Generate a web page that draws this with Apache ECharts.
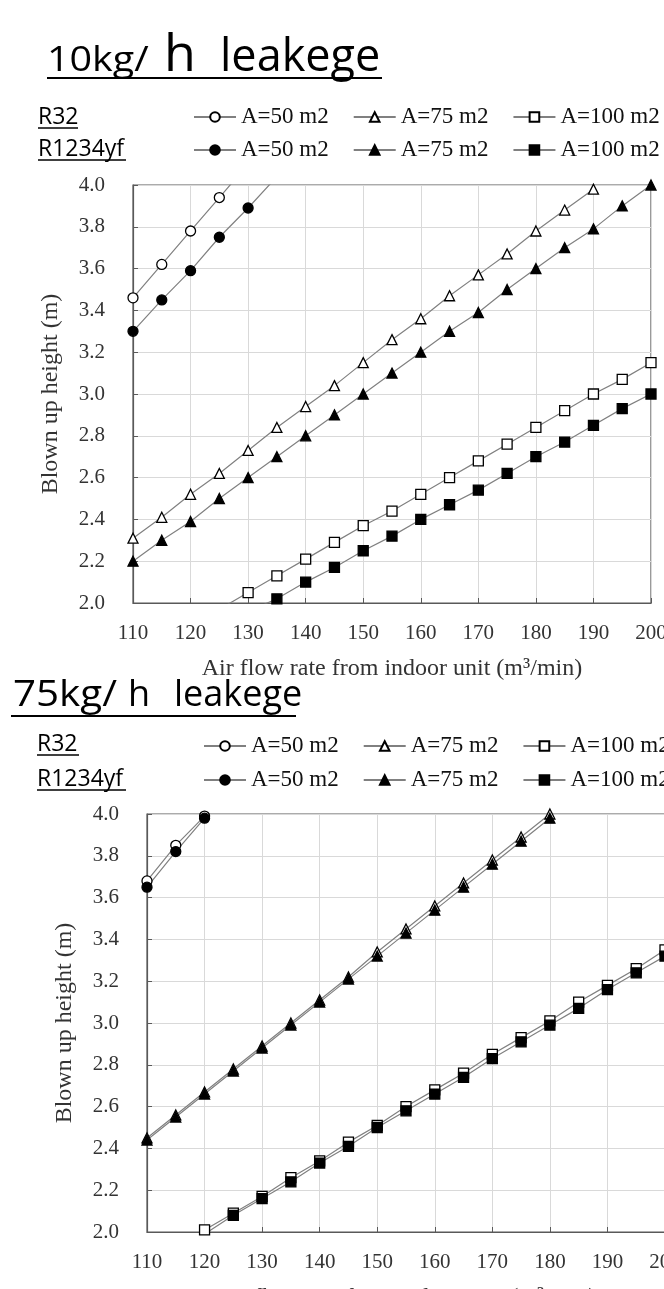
<!DOCTYPE html>
<html>
<head>
<meta charset="utf-8">
<script src="https://cdn.jsdelivr.net/npm/echarts@6/dist/echarts.min.js"></script>
<style>
  html, body { margin: 0; padding: 0; background: #fff; }
  #main { width: 664px; height: 1289px; }
</style>
</head>
<body>
<div id="main"></div>
<script>
// air flow rate (m3/min), shared x positions
const flow = [110, 115, 120, 125, 130, 135, 140, 145, 150, 155, 160, 165, 170, 175, 180, 185, 190, 195, 200];
const areaNames = ['A=50 m2', 'A=75 m2', 'A=100 m2'];

// 10kg/h leakege (values beyond 2.0-4.0 are clipped by the plot)
const r32_10_A50 = [3.46, 3.62, 3.78, 3.94, 4.10];
const yf_10_A50 = [3.30, 3.45, 3.59, 3.75, 3.89, 4.04];
const r32_10_A75 = [2.31, 2.41, 2.52, 2.62, 2.73, 2.84, 2.94, 3.04, 3.15, 3.26, 3.36, 3.47, 3.57, 3.67, 3.78, 3.88, 3.98];
const yf_10_A75 = [2.20, 2.30, 2.39, 2.50, 2.60, 2.70, 2.80, 2.90, 3.00, 3.10, 3.20, 3.30, 3.39, 3.50, 3.60, 3.70, 3.79, 3.90, 4.00];
const r32_10_A100 = [null, null, null, 1.97, 2.05, 2.13, 2.21, 2.29, 2.37, 2.44, 2.52, 2.60, 2.68, 2.76, 2.84, 2.92, 3.00, 3.07, 3.15];
const yf_10_A100 = [null, null, null, null, 1.96, 2.02, 2.10, 2.17, 2.25, 2.32, 2.40, 2.47, 2.54, 2.62, 2.70, 2.77, 2.85, 2.93, 3.00];

// 75kg/h leakege
const r32_75_A50 = [3.68, 3.85, 3.99];
const yf_75_A50 = [3.65, 3.82, 3.98];
const r32_75_A75 = [2.45, 2.56, 2.67, 2.78, 2.89, 3.00, 3.11, 3.22, 3.34, 3.45, 3.56, 3.67, 3.78, 3.89, 4.00];
const yf_75_A75 = [2.44, 2.55, 2.66, 2.77, 2.88, 2.99, 3.10, 3.21, 3.32, 3.43, 3.54, 3.65, 3.76, 3.87, 3.98];
const r32_75_A100 = [null, null, 2.01, 2.09, 2.17, 2.26, 2.34, 2.43, 2.51, 2.60, 2.68, 2.76, 2.85, 2.93, 3.01, 3.10, 3.18, 3.26, 3.35];
const yf_75_A100 = [null, null, 1.99, 2.08, 2.16, 2.24, 2.33, 2.41, 2.50, 2.58, 2.66, 2.74, 2.83, 2.91, 2.99, 3.07, 3.16, 3.24, 3.32];

const symbols = ['circle', 'triangle', 'rect'];
const serif = '"Liberation Serif", "Times New Roman", serif';
const sans = '"Open Sans", "Noto Sans", sans-serif';

function makeSeries(chart, gas, k, values) {
  return {
    name: chart + '|' + gas + '|' + areaNames[k],
    type: 'line',
    xAxisIndex: chart === '10' ? 0 : 1,
    yAxisIndex: chart === '10' ? 0 : 1,
    data: flow.map((x, i) => [x, values[i]]).filter(d => d[1] != null),
    symbol: symbols[k],
    symbolSize: 10,
    clip: true,
    animation: false,
    lineStyle: { color: '#808080', width: 1.2 },
    itemStyle: { color: gas === 'R32' ? '#fff' : '#000', borderColor: '#000', borderWidth: 1.3 },
    emphasis: { disabled: true }
  };
}

const series = [
  makeSeries('10', 'R32', 0, r32_10_A50), makeSeries('10', 'R1234yf', 0, yf_10_A50),
  makeSeries('10', 'R32', 1, r32_10_A75), makeSeries('10', 'R1234yf', 1, yf_10_A75),
  makeSeries('10', 'R32', 2, r32_10_A100), makeSeries('10', 'R1234yf', 2, yf_10_A100),
  makeSeries('75', 'R32', 0, r32_75_A50), makeSeries('75', 'R1234yf', 0, yf_75_A50),
  makeSeries('75', 'R32', 1, r32_75_A75), makeSeries('75', 'R1234yf', 1, yf_75_A75),
  makeSeries('75', 'R32', 2, r32_75_A100), makeSeries('75', 'R1234yf', 2, yf_75_A100)
];

function makeLegend(chart, gas, left, top) {
  return {
    data: areaNames.map(a => chart + '|' + gas + '|' + a),
    formatter: n => n.split('|')[2],
    left: left, top: top, width: 800, padding: 0,
    itemWidth: 42, itemHeight: 12, itemGap: 24,
    selectedMode: false,
    textStyle: { fontFamily: serif, fontSize: 23, color: '#111' }
  };
}

function makeX(idx) {
  return {
    type: 'value', gridIndex: idx, min: 110, max: 200, interval: 10,
    axisLine: { lineStyle: { color: '#595959', width: 1.2 } },
    axisTick: { show: true, inside: true, length: 5, lineStyle: { color: '#595959' } },
    axisLabel: { fontFamily: serif, fontSize: 21, color: '#333', margin: 20 },
    splitLine: { lineStyle: { color: '#d9d9d9', width: 1 } },
    name: 'Air flow rate from indoor unit (m³/min)',
    nameLocation: 'middle', nameGap: 54,
    nameTextStyle: { fontFamily: serif, fontSize: 24, color: '#333' }
  };
}

function makeY(idx) {
  return {
    type: 'value', gridIndex: idx, min: 2.0, max: 4.0, interval: 0.2,
    axisLine: { show: true, lineStyle: { color: '#595959', width: 1.2 } },
    axisTick: { show: true, inside: true, length: 5, lineStyle: { color: '#595959' } },
    axisLabel: { fontFamily: serif, fontSize: 21, color: '#333', margin: 28, formatter: v => v.toFixed(1) },
    splitLine: { lineStyle: { color: '#d9d9d9', width: 1 } },
    name: 'Blown up height (m)',
    nameLocation: 'middle', nameGap: 70,
    nameTextStyle: { fontFamily: serif, fontSize: 24, color: '#333' }
  };
}

// text placed by baseline, sx stretches it sideways like the source image
function txt(s, x, base, size, sx) {
  return {
    type: 'text', x: x, y: base - 0.33 * size, scaleX: sx || 1, silent: true,
    style: { text: s, font: size + 'px ' + sans, fill: '#000', verticalAlign: 'middle', align: 'left' }
  };
}
function uline(x1, x2, y, w) {
  return { type: 'line', silent: true, shape: { x1: x1, y1: y, x2: x2, y2: y }, style: { stroke: '#000', lineWidth: w } };
}

const graphic = [
  txt('10kg/', 47, 73, 34, 1.16), txt('h', 164, 73, 52), txt('leakege', 220, 73, 45),
  uline(47, 382, 78, 2),
  txt('75kg/', 13, 708, 36, 1.12), txt('h', 128, 708, 36), txt('leakege', 174, 708, 36),
  uline(11, 296, 716, 2),
  txt('R32', 38, 125, 23), uline(38, 78, 128, 1.5),
  txt('R1234yf', 38, 157, 23), uline(38, 126, 160, 1.5),
  txt('R32', 37, 752, 23), uline(37, 79, 755, 1.5),
  txt('R1234yf', 37, 787, 23), uline(37, 126, 790, 1.5)
];

const myChart = echarts.init(document.getElementById('main'), null, { renderer: 'canvas' });
const option = {
  backgroundColor: '#fff',
  animation: false,
  grid: [
    { left: 133, top: 185, width: 518, height: 418, show: true, borderColor: '#595959', borderWidth: 1.2, containLabel: false, outerBoundsMode: 'none' },
    { left: 147, top: 814, width: 518, height: 418, show: true, borderColor: '#595959', borderWidth: 1.2, containLabel: false, outerBoundsMode: 'none' }
  ],
  xAxis: [makeX(0), makeX(1)],
  yAxis: [makeY(0), makeY(1)],
  legend: [
    makeLegend('10', 'R32', 193, 105.5),
    makeLegend('10', 'R1234yf', 193, 138.5),
    makeLegend('75', 'R32', 203, 734.5),
    makeLegend('75', 'R1234yf', 203, 768.5)
  ],
  graphic: graphic,
  series: series
};
myChart.setOption(option);
</script>
</body>
</html>
